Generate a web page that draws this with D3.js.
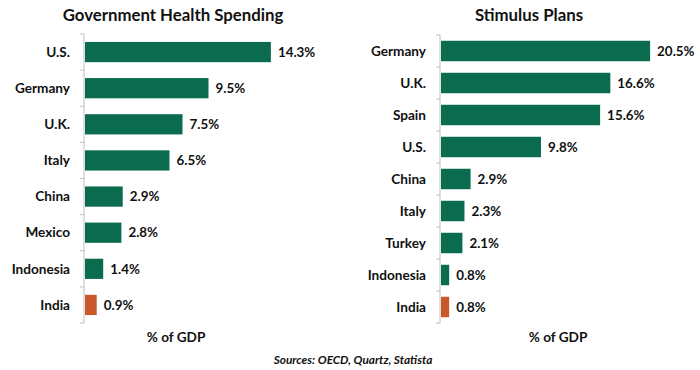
<html>
<head>
<meta charset="UTF-8">
<title>Health Spending vs Stimulus</title>
<style>
  body { margin: 0; background: #ffffff; }
  svg { font-family: Lato, 'Open Sans', sans-serif; }
  .title { font-size: 16.8px; font-weight: bold; fill: #111; }
  .cat { font-size: 13.6px; font-weight: bold; fill: #111; }
  .val { font-size: 13.4px; font-weight: bold; fill: #111; }
  .unit { font-size: 13.6px; font-weight: bold; fill: #111; }
  .src { font-size: 11.8px; font-weight: bold; font-style: italic; fill: #111; }
</style>
</head>
<body>
<svg width="700" height="370"></svg>
<script src="https://d3js.org/d3.v7.min.js"></script>
<script>
// left panel
var healthCountries = ["U.S.", "Germany", "U.K.", "Italy", "China", "Mexico", "Indonesia", "India"];
var healthValues = [14.3, 9.5, 7.5, 6.5, 2.9, 2.8, 1.4, 0.9];
// right panel
var stimulusCountries = ["Germany", "U.K.", "Spain", "U.S.", "China", "Italy", "Turkey", "Indonesia", "India"];
var stimulusValues = [20.5, 16.6, 15.6, 9.8, 2.9, 2.3, 2.1, 0.8, 0.8];

var green = "#0b6b4f";
var orange = "#c9582b";

var svg = d3.select("svg");

function panel(opt) {
    var g = svg.append("g");
    var data = opt.cats.map(function(c, i) { return {c: c, v: opt.vals[i]}; });

    var y = d3.scaleBand()
        .domain(opt.cats)
        .range([opt.top, opt.bottom])
        .paddingInner(opt.pad)
        .paddingOuter(opt.pad / 2);

    var x = d3.scaleLinear()
        .domain([0, 1])
        .range([opt.x0, opt.x0 + opt.perUnit]);

    // axis line + ticks between bands
    g.append("line")
        .attr("x1", opt.x0 - 1).attr("x2", opt.x0 - 1)
        .attr("y1", opt.top).attr("y2", opt.bottom)
        .attr("stroke", "#bfbfbf");
    var step = y.step();
    d3.range(opt.cats.length + 1).forEach(function(i) {
        g.append("line")
            .attr("x1", opt.x0 - 5).attr("x2", opt.x0 - 1)
            .attr("y1", opt.top + i * step).attr("y2", opt.top + i * step)
            .attr("stroke", "#bfbfbf");
    });

    g.selectAll(".bar")
        .data(data)
        .enter().append("rect")
        .attr("class", "bar")
        .attr("x", x(0))
        .attr("y", function(d) { return y(d.c); })
        .attr("width", function(d) { return x(d.v) - x(0); })
        .attr("height", y.bandwidth())
        .attr("fill", function(d) { return d.c === "India" ? orange : green; });

    g.selectAll(".val")
        .data(data)
        .enter().append("text")
        .attr("class", "val")
        .attr("x", function(d) { return x(d.v) + 7; })
        .attr("y", function(d) { return y(d.c) + y.bandwidth() / 2; })
        .attr("dy", "0.35em")
        .text(function(d) { return d.v.toFixed(1) + "%"; });

    g.selectAll(".cat")
        .data(data)
        .enter().append("text")
        .attr("class", "cat")
        .attr("x", opt.x0 - 15)
        .attr("y", function(d) { return y(d.c) + y.bandwidth() / 2; })
        .attr("dy", "0.35em")
        .attr("text-anchor", "end")
        .text(function(d) { return d.c; });

    g.append("text")
        .attr("class", "title")
        .attr("x", opt.titleX).attr("y", 21)
        .attr("text-anchor", "middle")
        .text(opt.title);

    g.append("text")
        .attr("class", "unit")
        .attr("x", opt.unitX).attr("y", 342)
        .attr("text-anchor", "middle")
        .text("% of GDP");
}

panel({
    cats: healthCountries, vals: healthValues,
    top: 34, bottom: 323, pad: 0.44,
    x0: 85, perUnit: 13.0,
    title: "Government Health Spending", titleX: 173, unitX: 176
});

panel({
    cats: stimulusCountries, vals: stimulusValues,
    top: 35, bottom: 323, pad: 0.36,
    x0: 441, perUnit: 10.2,
    title: "Stimulus Plans", titleX: 529, unitX: 558
});

svg.append("text")
    .attr("class", "src")
    .attr("x", 353).attr("y", 364)
    .attr("text-anchor", "middle")
    .text("Sources: OECD, Quartz, Statista");
</script>
</body>
</html>
